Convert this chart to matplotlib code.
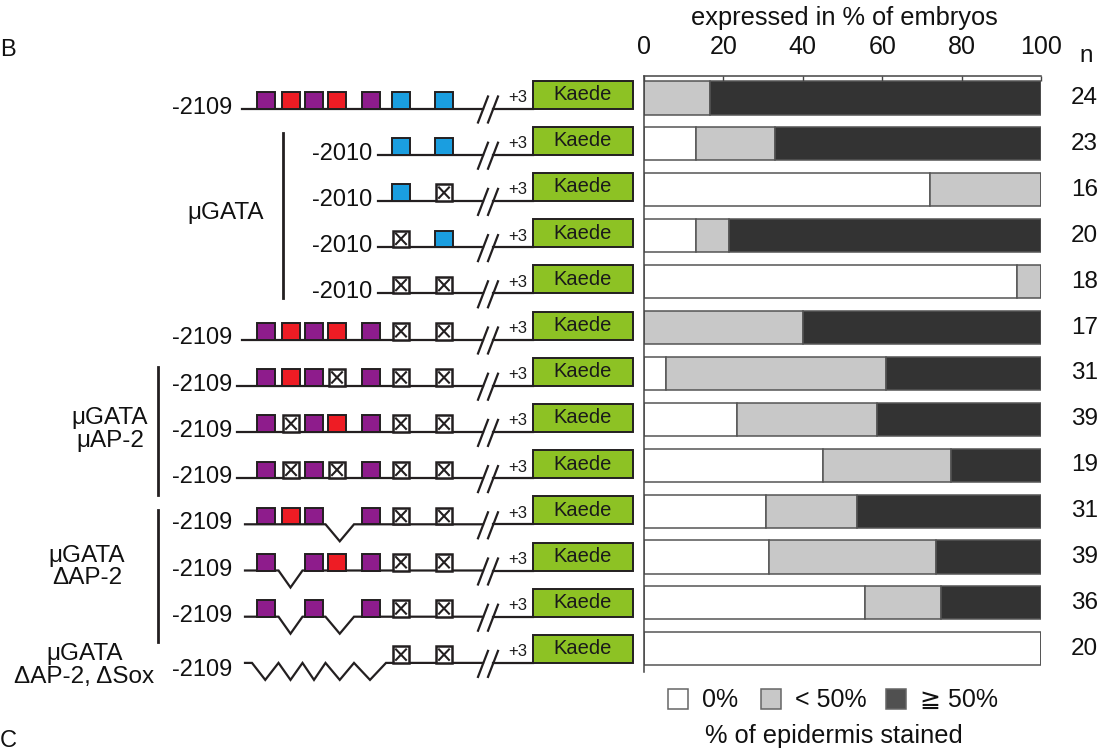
import matplotlib
matplotlib.use('Agg')
import matplotlib.pyplot as plt
from matplotlib.patches import Rectangle

plt.rcParams['font.family'] = ['Liberation Sans', 'DejaVu Sans', 'Noto Sans CJK JP']

# ---------------- data ----------------
n_values = [24, 23, 16, 20, 18, 17, 31, 39, 19, 31, 39, 36, 20]
pct_none = [0, 13, 72, 13, 94, 0, 5.5, 23.5, 45.2, 30.7, 31.5, 55.6, 100]
pct_low = [16.5, 20, 28, 8.5, 6, 40, 55.5, 35.2, 32.2, 23, 42.1, 19.3, 0]
pct_high = [83.5, 67, 0, 78.5, 0, 60, 39, 41.3, 22.6, 46.3, 26.4, 25.1, 0]
x_ticks = [0, 20, 40, 60, 80, 100]
legend_labels = ['0%', '< 50%', '≧ 50%']
construct_labels = ['-2109', '-2010', '-2010', '-2010', '-2010', '-2109', '-2109',
                    '-2109', '-2109', '-2109', '-2109', '-2109', '-2109']
# P purple site, R red site, B blue site, X mutated site, V deleted, - absent
site_patterns = ['PRPRPBB', '-----BB', '-----BX', '-----XB', '-----XX', 'PRPRPXX',
                 'PRPXPXX', 'PXPRPXX', 'PXPXPXX', 'PRPVPXX', 'PVPRPXX', 'PVPVPXX',
                 'VVVVVXX']
reporter_name = 'Kaede'
start_label = '+3'
title_text = 'expressed in % of embryos'
xlabel_text = '% of epidermis stained'
n_header = 'n'

# ---------------- styles / layout ----------------
W, H = 1112, 751
seg_colors = ['#ffffff', '#c8c8c8', '#333333']
legend_colors = ['#ffffff', '#c8c8c8', '#505050']
site_colors = {'P': '#8e1c8c', 'R': '#ee1c24', 'B': '#1a9ee0'}
kaede_color = '#8dc224'
ink = '#231f20'

fig = plt.figure(figsize=(W / 100, H / 100), dpi=100)
fig.patch.set_facecolor('white')

# overlay in pixel coordinates for the construct diagrams
ov = fig.add_axes([0, 0, 1, 1])
ov.set_xlim(0, W)
ov.set_ylim(H, 0)
ov.axis('off')

# bar axes
ax_l, ax_r, ax_t, ax_b = 644, 1041, 76, 672
ax = fig.add_axes([ax_l / W, 1 - ax_b / H, (ax_r - ax_l) / W, (ax_b - ax_t) / H])
ax.set_zorder(2)
row0_px, row_step = 98.0, 45.9
ax.set_xlim(0, 100)
ax.set_ylim((ax_b - row0_px) / row_step, (ax_t - row0_px) / row_step)

rows = list(range(len(n_values)))
left = [0] * len(rows)
for vals, col in zip([pct_none, pct_low, pct_high], seg_colors):
    ax.barh(rows, vals, left=left, height=0.72, color=col,
            edgecolor='#555555', linewidth=1.1)
    left = [a + b for a, b in zip(left, vals)]

for s in ['right', 'bottom']:
    ax.spines[s].set_visible(False)
for s in ['top', 'left']:
    ax.spines[s].set_color('#444444')
    ax.spines[s].set_linewidth(1.1)
ax.set_yticks([])
ax.set_xticks(x_ticks)
ax.set_xticklabels([str(t) for t in x_ticks])
ax.xaxis.set_ticks_position('top')
ax.tick_params(axis='x', direction='in', length=3.5, width=1.0, color='#444444',
               labelsize=18, pad=12, labelcolor='#111111')

for i, n in enumerate(n_values):
    ax.text(111, i, str(n), ha='center', va='center', fontsize=17.5,
            color='#111111', clip_on=False)

ov.text(1086, 56, n_header, ha='center', va='center', fontsize=17.5, color='#111111')
ov.text(844, 18, title_text, ha='center', va='center', fontsize=18.3, color='#111111')
ov.text(834, 736, xlabel_text, ha='center', va='center', fontsize=18.3, color='#111111')

# legend
leg_sq_x = [668, 761, 886]
for lx, lab, col in zip(leg_sq_x, legend_labels, legend_colors):
    ov.add_patch(Rectangle((lx, 689), 20, 20, facecolor=col, edgecolor='#666666', lw=1.1))
    ov.text(lx + 34, 700, lab, ha='left', va='center', fontsize=18, color='#111111')

# ---------------- construct diagrams ----------------
site_x = [257, 282, 305, 328, 362, 392, 435]
site_w, site_h = 18, 16.5
line_y0, line_step = 108.5, 46.2
label_right = [232, 372, 372, 372, 372, 232, 232, 232, 232, 232, 232, 232, 232]
line_start = [242, 378, 378, 378, 378, 242, 237, 237, 237, 245, 245, 245, 245]
label_dy = [-1, -1, -1, -1, -1, -1, -1, -1, -1, -1, -1, -1, 7]
brk_a, brk_b = 483, 493
kaede_x0, kaede_x1 = 533, 633
v_depth = 17

for i, pat in enumerate(site_patterns):
    y = line_y0 + line_step * i
    # backbone line with deletion dips
    pts = [(line_start[i], y)]
    for k, c in enumerate(pat):
        if c != 'V':
            continue
        x0 = site_x[k]
        lft = (site_x[k - 1] + site_w + x0) / 2 if k > 0 else x0 - 5
        rgt = (x0 + site_w + site_x[k + 1]) / 2
        pts += [(lft, y), ((lft + rgt) / 2, y + v_depth), (rgt, y)]
    pts.append((brk_a, y))
    ov.plot([p[0] for p in pts], [p[1] for p in pts], color=ink, lw=1.6,
            solid_joinstyle='miter', zorder=2)
    ov.plot([brk_b, kaede_x0], [y, y], color=ink, lw=1.6, zorder=2)
    # break marks
    for dx in (0, 10):
        ov.plot([478 + dx, 488 + dx], [y + 14, y - 12], color=ink, lw=1.6, zorder=3)
    # sites
    for k, c in enumerate(pat):
        x0 = site_x[k]
        if c in site_colors:
            ov.add_patch(Rectangle((x0, y - site_h), site_w, site_h,
                                   facecolor=site_colors[c], edgecolor=ink, lw=1.4, zorder=4))
        elif c == 'X':
            ov.add_patch(Rectangle((x0 + 1, y - site_h), site_w - 2, site_h,
                                   facecolor='white', edgecolor=ink, lw=1.8, zorder=4))
            ov.plot([x0 + 4, x0 + site_w - 4], [y - 3, y - site_h + 3], color=ink, lw=1.5, zorder=5)
            ov.plot([x0 + 4, x0 + site_w - 4], [y - site_h + 3, y - 3], color=ink, lw=1.5, zorder=5)
    # reporter
    ov.add_patch(Rectangle((kaede_x0, y - 28), kaede_x1 - kaede_x0, 28,
                           facecolor=kaede_color, edgecolor=ink, lw=1.4, zorder=4))
    ov.text((kaede_x0 + kaede_x1) / 2, y - 14, reporter_name, ha='center', va='center',
            fontsize=14.5, color='#1a1a1a', zorder=5)
    ov.text(518, y - 11, start_label, ha='center', va='center', fontsize=12,
            color='#1a1a1a')
    # construct start label
    ov.text(label_right[i], y + label_dy[i], construct_labels[i], ha='right', va='center',
            fontsize=17, color='#111111')

# group brackets and labels
ov.plot([283, 283], [133, 298], color=ink, lw=2)
ov.plot([158, 158], [367, 495], color=ink, lw=2)
ov.plot([158, 158], [510, 642], color=ink, lw=2)
ov.text(226, 213, 'μGATA', ha='center', va='center', fontsize=17.5, color='#111111')
ov.text(110, 418, 'μGATA', ha='center', va='center', fontsize=17.5, color='#111111')
ov.text(110, 441, 'μAP-2', ha='center', va='center', fontsize=17.5, color='#111111')
ov.text(87, 556, 'μGATA', ha='center', va='center', fontsize=17.5, color='#111111')
ov.text(87, 578, 'ΔAP-2', ha='center', va='center', fontsize=17.5, color='#111111')
ov.text(85, 654, 'μGATA', ha='center', va='center', fontsize=17.5, color='#111111')
ov.text(84, 677, 'ΔAP-2, ΔSox', ha='center', va='center', fontsize=17.5, color='#111111')

# panel letters
ov.text(0, 50, 'B', ha='left', va='center', fontsize=17, color='#111111')
ov.text(0, 741, 'C', ha='left', va='center', fontsize=17, color='#111111')

fig.savefig('out.png', dpi=100, facecolor='white')
